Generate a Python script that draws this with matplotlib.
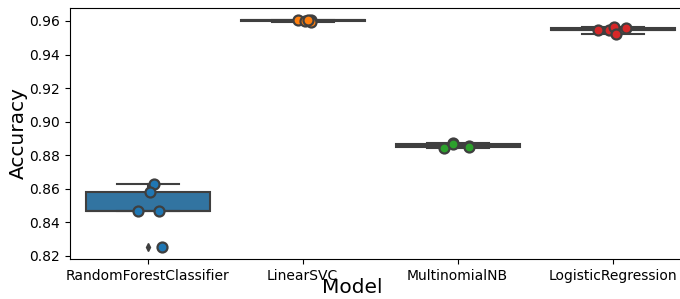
import matplotlib
matplotlib.use("Agg")
import matplotlib.pyplot as plt
import numpy as np

models = ["RandomForestClassifier", "LinearSVC", "MultinomialNB", "LogisticRegression"]
rf_acc = [0.8629, 0.8582, 0.8466, 0.8466, 0.8255]
svc_acc = [0.9604, 0.9600, 0.9608, 0.9592, 0.9606]
nb_acc = [0.8842, 0.8872, 0.8858, 0.8852, 0.8866]
lr_acc = [0.9545, 0.9545, 0.9565, 0.9525, 0.9559]
yticks = [0.82, 0.84, 0.86, 0.88, 0.90, 0.92, 0.94, 0.96]

# horizontal jitter offsets (layout only)
jitter = [
    [0.040, 0.013, -0.063, 0.071, 0.092],
    [-0.030, 0.019, 0.052, 0.052, 0.035],
    [-0.090, -0.026, 0.077, 0.077, -0.026],
    [-0.095, -0.024, 0.008, 0.024, 0.088],
]

data = [rf_acc, svc_acc, nb_acc, lr_acc]
box_colors = ["#3274a1", "#e1812c", "#3a923a", "#c03d3e"]
pt_colors = ["#1f77b4", "#ff7f0e", "#2ca02c", "#d62728"]
edge = "#3f3f3f"

fig = plt.figure(figsize=(6.8, 2.99), dpi=100)
ax = fig.add_axes([70 / 680, 40 / 299, 620 / 680, 251 / 299])

pos = np.arange(len(models))
bp = ax.boxplot(data, positions=pos, widths=0.8, patch_artist=True,
                whis=1.5, zorder=2,
                boxprops=dict(edgecolor=edge, linewidth=1.5),
                whiskerprops=dict(color=edge, linewidth=1.5),
                capprops=dict(color=edge, linewidth=1.5),
                medianprops=dict(color=edge, linewidth=1.5),
                flierprops=dict(marker="d", markerfacecolor=edge,
                                markeredgecolor=edge, markersize=4))
for patch, c in zip(bp["boxes"], box_colors):
    patch.set_facecolor(c)

for i, vals in enumerate(data):
    xs = pos[i] + np.array(jitter[i])
    ax.scatter(xs, vals, s=7.2 ** 2, color=pt_colors[i], edgecolor=edge,
               linewidth=1.6, zorder=4)

ax.set_xlim(-0.5, len(models) - 0.5)
ax.set_ylim(0.8182, 0.9677)
ax.set_yticks(yticks)
ax.set_yticklabels([f"{t:.2f}" for t in yticks])
ax.set_xticks(pos)
ax.set_xticklabels(models)
ax.tick_params(axis="both", labelsize=10)
ax.set_xlabel("Model", fontsize=14.5)
ax.set_ylabel("Accuracy", fontsize=14.5)
ax.xaxis.set_label_coords(0.456, -0.075)
ax.yaxis.set_label_coords(-0.068, 0.5)

fig.savefig("out.png", dpi=100)
